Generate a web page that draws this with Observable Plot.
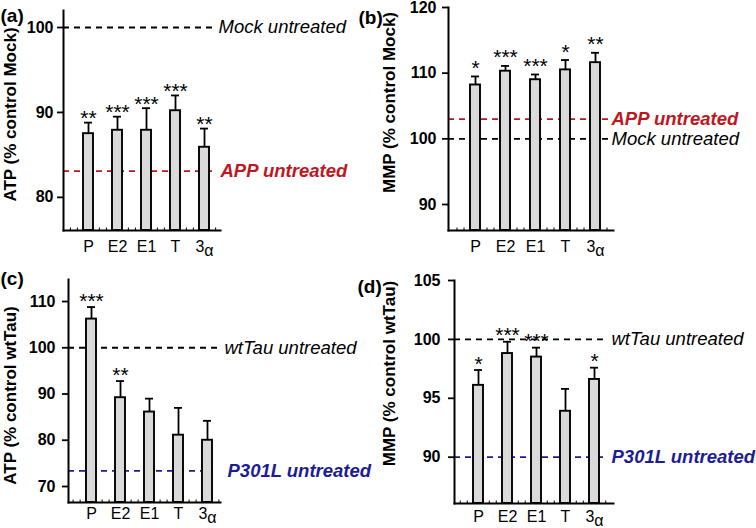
<!DOCTYPE html>
<html>
<head>
<meta charset="utf-8">
<script src="https://cdn.jsdelivr.net/npm/d3@7"></script>
<script src="https://cdn.jsdelivr.net/npm/@observablehq/plot@0.6"></script>
<style>
  html, body { margin: 0; padding: 0; background: #ffffff; }
  #wrap { position: relative; width: 756px; height: 528px; overflow: hidden; background: #fff; }
  #wrap > div { position: absolute; }
  svg { overflow: visible; }
</style>
</head>
<body>
<div id="wrap"></div>
<script>
// ---------------- data ----------------
const categories = ["P", "E2", "E1", "T", "3α"];

// (a) ATP, % control Mock
const atpMockMean  = [87.5, 87.9, 87.9, 90.2, 85.9];
const atpMockErr   = [88.8, 89.5, 90.5, 92.0, 88.1];
const atpMockStars = ["**", "***", "***", "***", "**"];
const atpMockRefValues = [100, 83.1];
const atpMockRefLabels = ["Mock untreated", "APP untreated"];
const atpMockTicks = [80, 90, 100];

// (b) MMP, % control Mock
const mmpMockMean  = [108.2, 110.3, 109.0, 110.5, 111.6];
const mmpMockErr   = [109.5, 111.1, 109.8, 112.0, 113.1];
const mmpMockStars = ["*", "***", "***", "*", "**"];
const mmpMockRefValues = [103, 100];
const mmpMockRefLabels = ["APP untreated", "Mock untreated"];
const mmpMockTicks = [90, 100, 110, 120];

// (c) ATP, % control wtTau
const atpTauMean  = [106.2, 89.2, 86.1, 81.1, 80.0];
const atpTauErr   = [108.8, 92.8, 89.0, 87.0, 84.2];
const atpTauStars = ["***", "**", "", "", ""];
const atpTauRefValues = [100, 73.4];
const atpTauRefLabels = ["wtTau untreated", "P301L untreated"];
const atpTauTicks = [70, 80, 90, 100, 110];

// (d) MMP, % control wtTau
const mmpTauMean  = [96.1, 98.8, 98.5, 93.9, 96.6];
const mmpTauErr   = [97.4, 99.8, 99.3, 95.8, 97.6];
const mmpTauStars = ["*", "***", "***", "", "*"];
const mmpTauRefValues = [100, 90];
const mmpTauRefLabels = ["wtTau untreated", "P301L untreated"];
const mmpTauTicks = [90, 95, 100, 105];

// ---------------- styling ----------------
const FONT = '"Liberation Sans", Arial, Helvetica, sans-serif';
const RED = "#c0161d";
const BLUE = "#1c1c96";
const BAR_FILL = "#dadada";
const refBlack = {color: "black", weight: "normal"};
const refRed = {color: RED, weight: "bold"};
const refBlue = {color: BLUE, weight: "bold"};

function panel(cfg) {
  const W = 378, H = 264;
  const m = cfg.margin;
  const frameH = H - m.top - m.bottom;
  const rows = categories.map((c, i) => ({cat: c, mean: cfg.mean[i], err: cfg.err[i], star: cfg.stars[i]}));
  const refs = cfg.refValues.map((v, i) => ({value: v, label: cfg.refLabels[i], ...cfg.refStyles[i]}));
  const step = (cfg.xRange[1] - cfg.xRange[0]) / categories.length;
  const last = rows.slice(-1);

  const marks = [];
  // reference (dashed) lines, behind bars
  refs.forEach(r => {
    marks.push(Plot.ruleY([r.value], {stroke: r.color, strokeWidth: 1.8, strokeDasharray: "6,5", insetRight: r.inset}));
    marks.push(Plot.text([r], {
      y: "value", text: "label", frameAnchor: "right", textAnchor: "start", lineAnchor: "middle",
      dx: r.dx, fill: r.color, fontStyle: "italic", fontWeight: r.weight, fontSize: 18.5
    }));
  });
  // error bars
  marks.push(Plot.ruleX(rows, {x: "cat", y1: "mean", y2: "err", stroke: "black", strokeWidth: 1.8}));
  marks.push(Plot.tickY(rows, {x: "cat", y: "err", stroke: "black", strokeWidth: 1.8, insetLeft: 1, insetRight: 1}));
  // bars
  marks.push(Plot.barY(rows, {x: "cat", y1: cfg.yDomain[0], y2: "mean", fill: BAR_FILL, stroke: "black", strokeWidth: 1.9}));
  // significance stars
  marks.push(Plot.text(rows.filter(d => d.star), {
    x: "cat", y: "err", text: "star", lineAnchor: "bottom", dy: 8.5 - cfg.starGap, fontSize: 21, fill: "black"
  }));
  // minor ticks along the x axis
  [-step / 2 - 3.5, -step / 2 + 3.5].forEach(o => {
    marks.push(Plot.ruleX(rows, {x: "cat", dx: o, insetTop: frameH - 2.5, stroke: "black", strokeWidth: 1}));
  });
  [step / 2 - 3.5].forEach(o => {
    marks.push(Plot.ruleX(last, {x: "cat", dx: o, insetTop: frameH - 2.5, stroke: "black", strokeWidth: 1}));
  });
  // axes lines
  marks.push(Plot.frame({anchor: "left", stroke: "black", strokeWidth: 2}));
  marks.push(Plot.frame({anchor: "bottom", stroke: "black", strokeWidth: 2}));
  marks.push(Plot.axisY({ticks: cfg.yTicks, tickSize: 6, tickPadding: cfg.tickPadY, fontWeight: "bold", fontSize: 16, label: null, strokeWidth: 1.8}));
  marks.push(Plot.axisX({tickSize: 0, tickPadding: cfg.tickPadX, fontSize: 16, label: null}));
  // y label
  marks.push(Plot.text([cfg.ylabel], {
    text: d => d, frameAnchor: "left", rotate: -90, textAnchor: "middle", lineAnchor: "middle",
    dx: cfg.ylabelX - m.left, dy: cfg.ylabelY - (m.top + frameH / 2), fontWeight: "bold", fontSize: 17
  }));
  // panel letter
  marks.push(Plot.text([cfg.letter], {
    text: d => d, frameAnchor: "top-left", textAnchor: "start", lineAnchor: "top",
    dx: cfg.letterX - m.left, dy: cfg.letterY - m.top, fontWeight: "bold", fontSize: 19
  }));

  const svg = Plot.plot({
    width: W, height: H,
    marginTop: m.top, marginRight: m.right, marginBottom: m.bottom, marginLeft: m.left,
    style: {fontFamily: FONT, fontSize: "16px", color: "black", background: "transparent", overflow: "visible"},
    x: {type: "band", domain: categories, range: cfg.xRange, paddingInner: 0.66, paddingOuter: 0.33, label: null, axis: null},
    y: {domain: cfg.yDomain, label: null, axis: null},
    marks
  });
  // subscript-like alpha in "3α"
  d3.select(svg).selectAll("text").filter(function () { return this.textContent === "3α"; }).each(function () {
    const t = d3.select(this);
    t.text("3");
    t.append("tspan").attr("dy", "0.25em").text("α");
  });
  const holder = document.createElement("div");
  holder.style.left = cfg.left + "px";
  holder.style.top = cfg.top + "px";
  holder.appendChild(svg);
  document.getElementById("wrap").appendChild(holder);
}

panel({
  left: 0, top: 0, letter: "(a)", letterX: 0, letterY: 8,
  margin: {top: 10, right: 158, bottom: 34, left: 63},
  yDomain: [76.1, 102], yTicks: atpMockTicks, xRange: [72.4, 218.6],
  tickPadX: 10, tickPadY: 4,
  ylabel: "ATP (% control Mock)", ylabelX: 10, ylabelY: 114,
  mean: atpMockMean, err: atpMockErr, stars: atpMockStars,
  refValues: atpMockRefValues, refLabels: atpMockRefLabels,
  refStyles: [{...refBlack, dx: -2, inset: 7}, {...refRed, dx: 0, inset: 7}],
  starGap: 6
});
panel({
  left: 378, top: 0, letter: "(b)", letterX: -20, letterY: 10,
  margin: {top: 7, right: 143, bottom: 34, left: 70},
  yDomain: [86.04, 120], yTicks: mmpMockTicks, xRange: [82, 232],
  tickPadX: 10, tickPadY: 6,
  ylabel: "MMP (% control Mock)", ylabelX: 11, ylabelY: 102,
  mean: mmpMockMean, err: mmpMockErr, stars: mmpMockStars,
  refValues: mmpMockRefValues, refLabels: mmpMockRefLabels,
  refStyles: [{...refRed, dx: -2, inset: 5}, {...refBlack, dx: -2, inset: 5}],
  starGap: 10
});
panel({
  left: 0, top: 264, letter: "(c)", letterX: 0, letterY: 7,
  margin: {top: 15, right: 158, bottom: 26, left: 68},
  yDomain: [66.54, 114.76], yTicks: atpTauTicks, xRange: [74.1, 222.9],
  tickPadX: 5, tickPadY: 7,
  ylabel: "ATP (% control wtTau)", ylabelX: 10, ylabelY: 131,
  mean: atpTauMean, err: atpTauErr, stars: atpTauStars,
  refValues: atpTauRefValues, refLabels: atpTauRefLabels,
  refStyles: [{...refBlack, dx: 4, inset: 3}, {...refBlue, dx: 7, inset: 7}],
  starGap: 8
});
panel({
  left: 378, top: 264, letter: "(d)", letterX: -21, letterY: 15,
  margin: {top: 16, right: 143, bottom: 25, left: 76},
  yDomain: [86.07, 105], yTicks: mmpTauTicks, xRange: [84.25, 231.75],
  tickPadX: 7, tickPadY: 8,
  ylabel: "MMP (% control wtTau)", ylabelX: 11, ylabelY: 109,
  mean: mmpTauMean, err: mmpTauErr, stars: mmpTauStars,
  refValues: mmpTauRefValues, refLabels: mmpTauRefLabels,
  refStyles: [{...refBlack, dx: -2, inset: 8}, {...refBlue, dx: -2, inset: 8}],
  starGap: 8
});
</script>
</body>
</html>
